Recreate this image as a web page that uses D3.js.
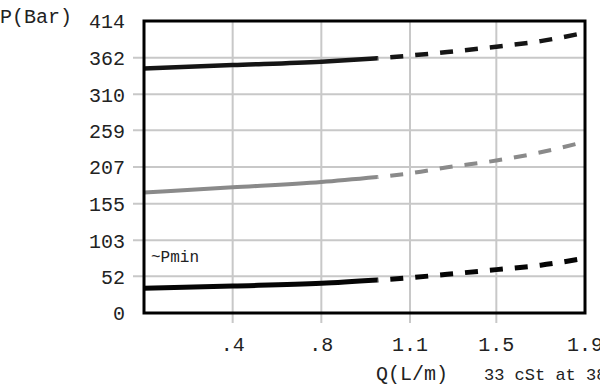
<!DOCTYPE html>
<html>
<head>
<meta charset="utf-8">
<script src="https://cdn.jsdelivr.net/npm/d3@7"></script>
<style>
  html, body { margin: 0; padding: 0; background: #fff; }
  svg { display: block; }
  text { font-family: "Courier New", "Liberation Mono", monospace; fill: #222; }
</style>
</head>
<body>
<svg id="chart" width="600" height="385"></svg>
<script>
// Q (L/m) tick positions and their printed labels
const xTicks = [0.38, 0.76, 1.14, 1.51, 1.89];
const xLabels = ['.4', '.8', '1.1', '1.5', '1.9'];
// P (Bar) ticks
const yTicks = [0, 52, 103, 155, 207, 259, 310, 362, 414];

// solid part (tested range) and dashed part (extrapolated)
const qSolid = [0, 0.38, 0.76, 1.0];
const qDash = [1.0, 1.14, 1.3, 1.51, 1.7, 1.89];

const pMaxSolid = [346.7, 351.6, 356.3, 361.1];
const pMaxDash = [361.1, 365.0, 370.0, 377.6, 385.5, 397.4];
const pMidSolid = [170.9, 178.2, 185.7, 192.8];
const pMidDash = [192.8, 198.1, 206.6, 216.2, 227.8, 242.9];
const pMinSolid = [35.0, 38.3, 42.1, 46.8];
const pMinDash = [46.8, 50.0, 54.9, 61.5, 67.8, 77.6];

const L = 144, R = 585, T = 21, B = 313;
const x = d3.scaleLinear().domain([0, 1.89]).range([L, R]);
const y = d3.scaleLinear().domain([0, 414]).range([B, T]);

const svg = d3.select('#chart');

svg.append('clipPath').attr('id', 'plot-clip')
  .append('rect').attr('x', L).attr('y', T).attr('width', R - L).attr('height', B - T);

// ---- grid (interior lines poke out of the frame like ticks) ----
const grid = svg.append('g').attr('stroke', '#c8c8c8').attr('stroke-width', 2);
grid.selectAll('line.v')
  .data(xTicks.slice(0, -1))
  .join('line')
  .attr('class', 'v')
  .attr('x1', (d) => x(d)).attr('x2', (d) => x(d))
  .attr('y1', T).attr('y2', B + 10);
grid.selectAll('line.h')
  .data(yTicks.slice(1, -1))
  .join('line')
  .attr('class', 'h')
  .attr('x1', L - 11).attr('x2', R)
  .attr('y1', (d) => y(d)).attr('y2', (d) => y(d));

// ---- curves ----
const line = d3.line()
  .x((d) => x(d[0]))
  .y((d) => y(d[1]))
  .curve(d3.curveMonotoneX);
const zip = (qs, ps) => qs.map((q, i) => [q, ps[i]]);

const series = [
  { solid: pMaxSolid, dash: pMaxDash, color: '#151515', width: 4.5 },
  { solid: pMidSolid, dash: pMidDash, color: '#8a8a8a', width: 4 },
  { solid: pMinSolid, dash: pMinDash, color: '#050505', width: 5 },
];

const curves = svg.append('g').attr('clip-path', 'url(#plot-clip)').attr('fill', 'none');
series.forEach((s) => {
  curves.append('path')
    .attr('d', line(zip(qSolid, s.solid)))
    .attr('stroke', s.color)
    .attr('stroke-width', s.width);
  // dashed tail starts with a gap after the solid part
  curves.append('path')
    .attr('d', line(zip(qDash, s.dash)))
    .attr('stroke', s.color)
    .attr('stroke-width', s.width)
    .attr('stroke-dasharray', '13,12')
    .attr('stroke-dashoffset', -13);
});

// ---- frame ----
svg.append('rect')
  .attr('x', L).attr('y', T)
  .attr('width', R - L).attr('height', B - T)
  .attr('fill', 'none')
  .attr('stroke', '#000')
  .attr('stroke-width', 3);

// ---- labels ----
svg.append('g').selectAll('text')
  .data(yTicks)
  .join('text')
  .attr('x', 125)
  .attr('y', (d) => y(d))
  .attr('dy', '0.36em')
  .attr('text-anchor', 'end')
  .attr('font-size', 20)
  .text((d) => d);

svg.append('g').selectAll('text')
  .data(xTicks)
  .join('text')
  .attr('x', (d) => x(d))
  .attr('y', 351)
  .attr('text-anchor', 'middle')
  .attr('font-size', 20)
  .text((d, i) => xLabels[i]);

svg.append('text').attr('x', 0).attr('y', 23).attr('font-size', 20).text('P(Bar)');
svg.append('text').attr('x', 376).attr('y', 380).attr('font-size', 20).text('Q(L/m)');
svg.append('text').attr('x', 484).attr('y', 380).attr('font-size', 17).text('33 cSt at 38°C');
svg.append('text').attr('x', 151).attr('y', 262).attr('font-size', 16).text('~Pmin');
</script>
</body>
</html>
